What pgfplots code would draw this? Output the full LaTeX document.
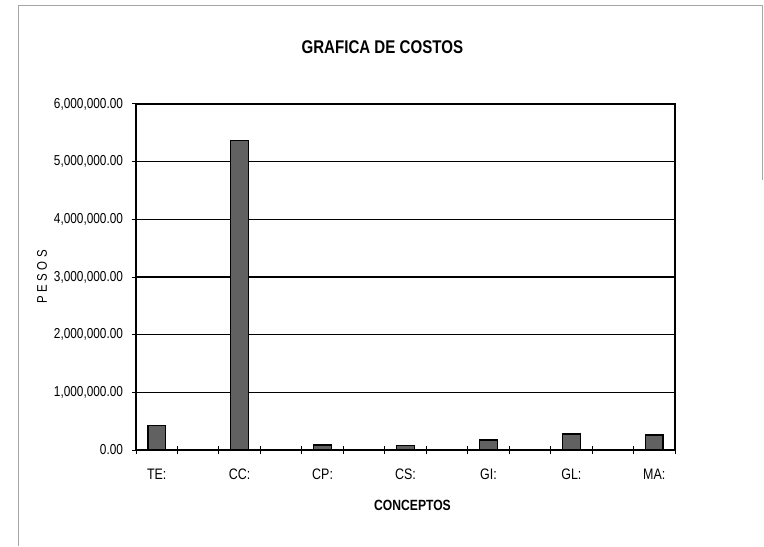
\documentclass[border=0pt]{standalone}
\usepackage{fontspec}
\setmainfont{Liberation Sans}[FakeStretch=0.82]
\usepackage{pgfplots}
\pgfplotsset{compat=1.18}

\begin{document}
\begin{tikzpicture}
\path[use as bounding box] (0,0) rectangle (382pt,273pt);
% outer frame of the chart sheet
\draw[gray!70, line width=0.4pt] (9pt,0pt) -- (9pt,270.5pt) -- (381pt,270.5pt) -- (381pt,183pt);
\begin{axis}[
  at={(68pt,48pt)}, anchor=south west,
  scale only axis, width=269.5pt, height=173pt,
  xmin=-0.5, xmax=12.5, ymin=0, ymax=6000000,
  ybar, bar width=0.43, bar shift=0pt,
  xtick={-0.5,0.5,...,12.5}, xticklabels={},
  extra x ticks={0,2,4,6,8,10,12},
  extra x tick labels={TE:,CC:,CP:,CS:,GI:,GL:,MA:},
  extra x tick style={major tick length=0pt},
  ytick={0,1000000,2000000,3000000,4000000,5000000,6000000},
  scaled y ticks=false,
  yticklabel style={/pgf/number format/fixed, /pgf/number format/fixed zerofill,
    /pgf/number format/precision=2, /pgf/number format/1000 sep={,},
    /pgf/number format/assume math mode=true, xshift=-1pt, font=\fontsize{7.2}{8}\selectfont},
  xticklabel style={yshift=-6pt, font=\fontsize{7.6}{9}\selectfont},
  tick pos=left,
  tick align=center, major tick length=4pt,
  tick style={black, line width=0.5pt},
  ymajorgrids, major grid style={black, line width=0.6pt},
  axis line style={black, line width=0.7pt},
  title={GRAFICA DE COSTOS},
  title style={font=\bfseries\fontsize{9.2}{11}\selectfont, at={(axis description cs:0.457,1.13)}, anchor=center},
  xlabel={CONCEPTOS},
  xlabel style={font=\bfseries\fontsize{7.4}{9}\selectfont, at={(axis description cs:0.513,-0.159)}, anchor=center},
  ylabel={P\hspace{1.8pt}E\hspace{1.8pt}S\hspace{1.8pt}O\hspace{1.8pt}S},
  ylabel style={font=\fontsize{7}{8}\selectfont, at={(axis description cs:-0.1744,0.5)}, anchor=center},
]
\addplot[fill=black!62, draw=black, line width=0.7pt]
  coordinates {(0,430000) (2,5370000) (4,85000) (6,80000) (8,170000) (10,280000) (12,260000)};
\end{axis}
\end{tikzpicture}
\end{document}
